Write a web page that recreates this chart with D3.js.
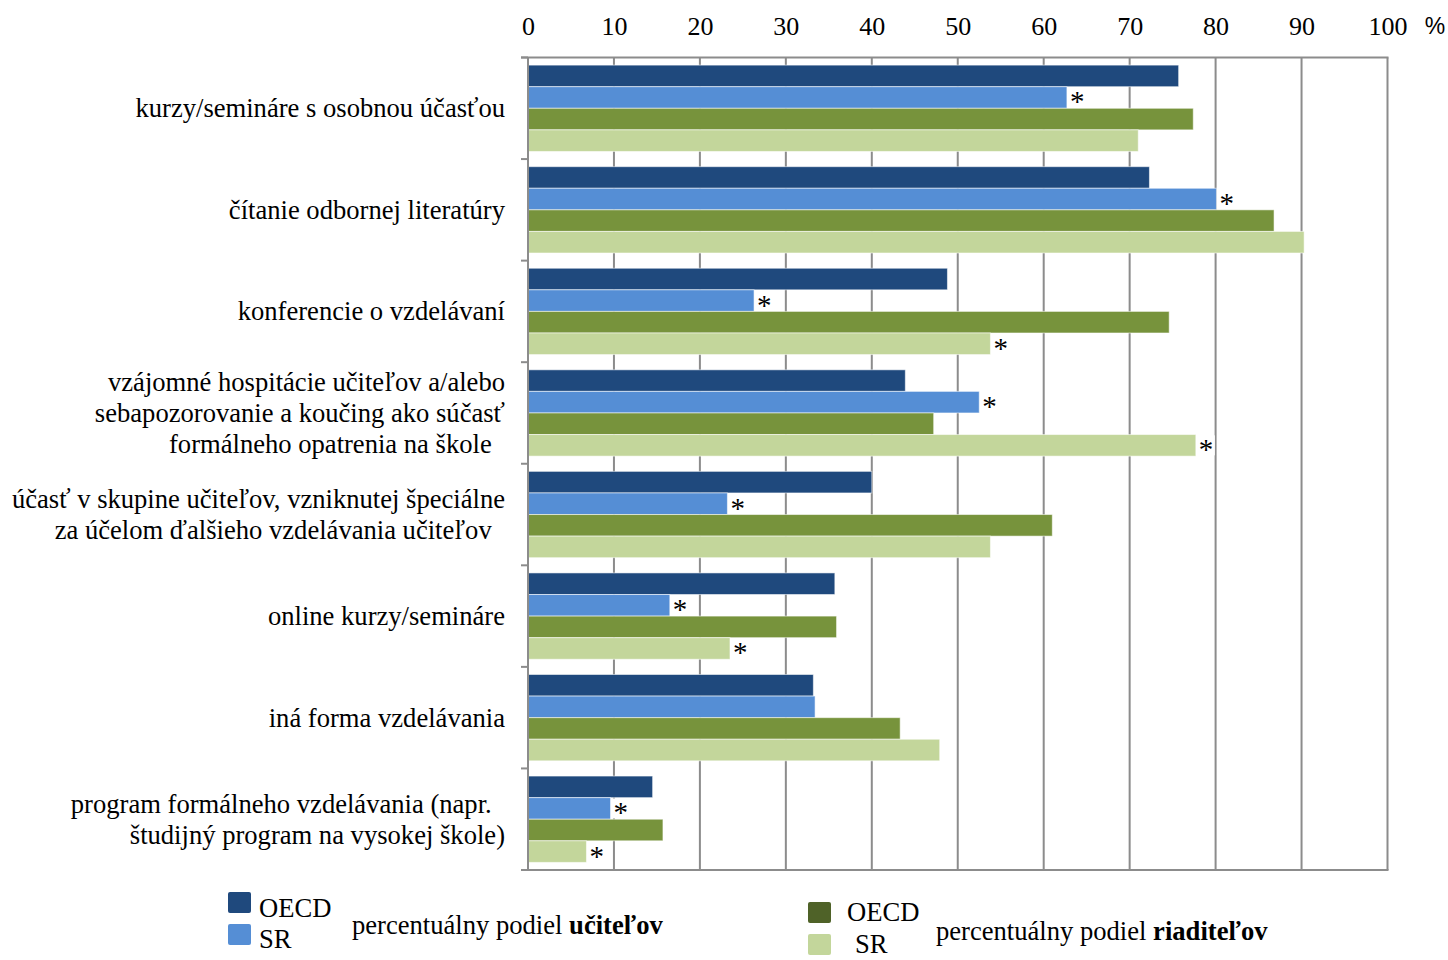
<!DOCTYPE html>
<html><head><meta charset="utf-8">
<script src="https://cdn.jsdelivr.net/npm/d3@7"></script>
<style>
html,body{margin:0;padding:0;background:#fff;}
svg{display:block;}
text{font-family:"Liberation Serif","Times New Roman",serif;fill:#000;}
</style></head>
<body>
<svg id="chart" width="1448" height="960"></svg>
<script>
// ---- data ----
const categories = [
  ["kurzy/semináre s osobnou účasťou"],
  ["čítanie odbornej literatúry"],
  ["konferencie o vzdelávaní"],
  ["vzájomné hospitácie učiteľov a/alebo", "sebapozorovanie a koučing ako súčasť", "formálneho opatrenia na škole\u00a0\u00a0"],
  ["účasť v skupine učiteľov, vzniknutej špeciálne", "za účelom ďalšieho vzdelávania učiteľov\u00a0\u00a0"],
  ["online kurzy/semináre"],
  ["iná forma vzdelávania"],
  ["program formálneho vzdelávania (napr.\u00a0\u00a0", "študijný program na vysokej škole)"]
];
const seriesNames = ["OECD učitelia", "SR učitelia", "OECD riaditelia", "SR riaditelia"];
const teachersOECD   = [75.7, 72.3, 48.8, 43.9, 40.0, 35.7, 33.2, 14.5];
const teachersSR     = [62.7, 80.1, 26.3, 52.5, 23.2, 16.5, 33.4, 9.6];
const principalsOECD = [77.4, 86.8, 74.6, 47.2, 61.0, 35.9, 43.3, 15.7];
const principalsSR   = [71.0, 90.3, 53.8, 77.7, 53.8, 23.5, 47.9, 6.8];
// significance flags (*) per series
const starsTeachersSR   = [1, 1, 1, 1, 1, 1, 0, 1];
const starsPrincipalsSR = [0, 0, 1, 1, 0, 1, 0, 1];
const xTicks = [0, 10, 20, 30, 40, 50, 60, 70, 80, 90, 100];
const unitLabel = "%";
const legendTeachers = ["OECD", "SR"];
const legendPrincipals = ["OECD", "SR"];

// ---- layout ----
const colors = ["#1F497D", "#558ED5", "#77933C", "#C3D69B"];
const legendColors = ["#1F497D", "#558ED5", "#4F6228", "#C3D69B"];
const plot = {left: 528, right: 1387.5, top: 57.5, bottom: 870};
const FS = 26.6;
const svg = d3.select("#chart");

const x = d3.scaleLinear().domain([0, 100]).range([plot.left, plot.right]);
const y = d3.scaleBand().domain(d3.range(categories.length)).range([plot.top, plot.bottom]).paddingInner(0.15).paddingOuter(0.075);
const yOuter = d3.scaleBand().domain(d3.range(categories.length)).range([plot.top, plot.bottom]);
const ySub = d3.scaleBand().domain(d3.range(4)).range([0, y.bandwidth()]);

const allSeries = [teachersOECD, teachersSR, principalsOECD, principalsSR];
const gridColor = "#8C8C8C";

// grid lines
svg.append("g").selectAll("line").data(xTicks.filter(d => d > 0)).join("line")
  .attr("x1", d => x(d)).attr("x2", d => x(d))
  .attr("y1", plot.top).attr("y2", plot.bottom)
  .attr("stroke", gridColor).attr("stroke-width", 2);
// top border
svg.append("line").attr("x1", plot.left - 7).attr("x2", plot.right + 1)
  .attr("y1", plot.top).attr("y2", plot.top).attr("stroke", gridColor).attr("stroke-width", 2);

// bars
categories.forEach((c, i) => {
  const g = svg.append("g").attr("transform", `translate(0,${y(i)})`);
  g.selectAll("rect").data(allSeries.map(s => s[i])).join("rect")
    .attr("x", x(0)).attr("y", (d, k) => ySub(k))
    .attr("width", d => x(d) - x(0)).attr("height", ySub.bandwidth())
    .attr("fill", (d, k) => colors[k])
    .attr("stroke", "rgba(255,255,255,0.55)").attr("stroke-width", 1);
});

// asterisks
function stars(flags, values, k) {
  flags.forEach((f, i) => {
    if (!f) return;
    const yc = y(i) + ySub(k) + ySub.bandwidth() / 2;
    const xe = x(values[i]);
    svg.append("rect").attr("x", xe + 1).attr("y", yc - 10).attr("width", 18).attr("height", 20).attr("fill", "#fff");
    svg.append("text").attr("x", xe + 3).attr("y", yc + 14)
      .attr("font-size", 29).text("*");
  });
}
stars(starsTeachersSR, teachersSR, 1);
stars(starsPrincipalsSR, principalsSR, 3);

// left axis
svg.append("line").attr("x1", plot.left).attr("x2", plot.left).attr("y1", plot.top).attr("y2", plot.bottom)
  .attr("stroke", gridColor).attr("stroke-width", 2);
svg.append("g").selectAll("line").data(d3.range(categories.length + 1)).join("line")
  .attr("x1", plot.left - 7).attr("x2", plot.left)
  .attr("y1", d => d < categories.length ? yOuter(d) : plot.bottom)
  .attr("y2", d => d < categories.length ? yOuter(d) : plot.bottom)
  .attr("stroke", gridColor).attr("stroke-width", 2);
// bottom border
svg.append("line").attr("x1", plot.left - 7).attr("x2", plot.right + 1)
  .attr("y1", plot.bottom).attr("y2", plot.bottom).attr("stroke", gridColor).attr("stroke-width", 2);

// top tick labels
const xAxis = d3.axisTop(x).tickValues(xTicks).tickSize(0).tickPadding(0);
const ax = svg.append("g").attr("transform", `translate(0,35)`).call(xAxis);
ax.select(".domain").remove();
ax.selectAll("text").attr("font-family", '"Liberation Serif","Times New Roman",serif')
  .attr("font-size", 26).attr("fill", "#000").attr("dy", 0);
svg.append("text").attr("x", 1435).attr("y", 34).attr("text-anchor", "middle")
  .style("font-family", '"Liberation Sans",Arial,sans-serif').attr("font-size", 23).text(unitLabel);

// category labels
const lineH = 31;
categories.forEach((lines, i) => {
  const cy = yOuter(i) + yOuter.bandwidth() / 2;
  const t = svg.append("text").attr("text-anchor", "end").attr("font-size", FS);
  lines.forEach((ln, j) => {
    t.append("tspan").attr("x", 505)
      .attr("y", cy + (j - (lines.length - 1) / 2) * lineH + 9).text(ln);
  });
});

// legend
const leg = svg.append("g");
legendTeachers.forEach((n, k) => {
  leg.append("rect").attr("x", 228).attr("y", 892 + k * 32).attr("width", 23).attr("height", 21).attr("rx", 2)
    .attr("fill", legendColors[k]);
  leg.append("text").attr("x", 259).attr("y", 917 + k * 31).attr("font-size", FS).text(n);
});
const lt = leg.append("text").attr("x", 352).attr("y", 934).attr("font-size", FS);
lt.append("tspan").text("percentuálny podiel ");
lt.append("tspan").attr("font-weight", "bold").text("učiteľov");

legendPrincipals.forEach((n, k) => {
  leg.append("rect").attr("x", 808).attr("y", 902 + k * 32).attr("width", 23).attr("height", 21).attr("rx", 2)
    .attr("fill", legendColors[k + 2]);
  leg.append("text").attr("x", k === 0 ? 847 : 855).attr("y", 921 + k * 32).attr("font-size", FS).text(n);
});
const lp = leg.append("text").attr("x", 936).attr("y", 940).attr("font-size", FS);
lp.append("tspan").text("percentuálny podiel ");
lp.append("tspan").attr("font-weight", "bold").text("riaditeľov");
</script>
</body></html>
